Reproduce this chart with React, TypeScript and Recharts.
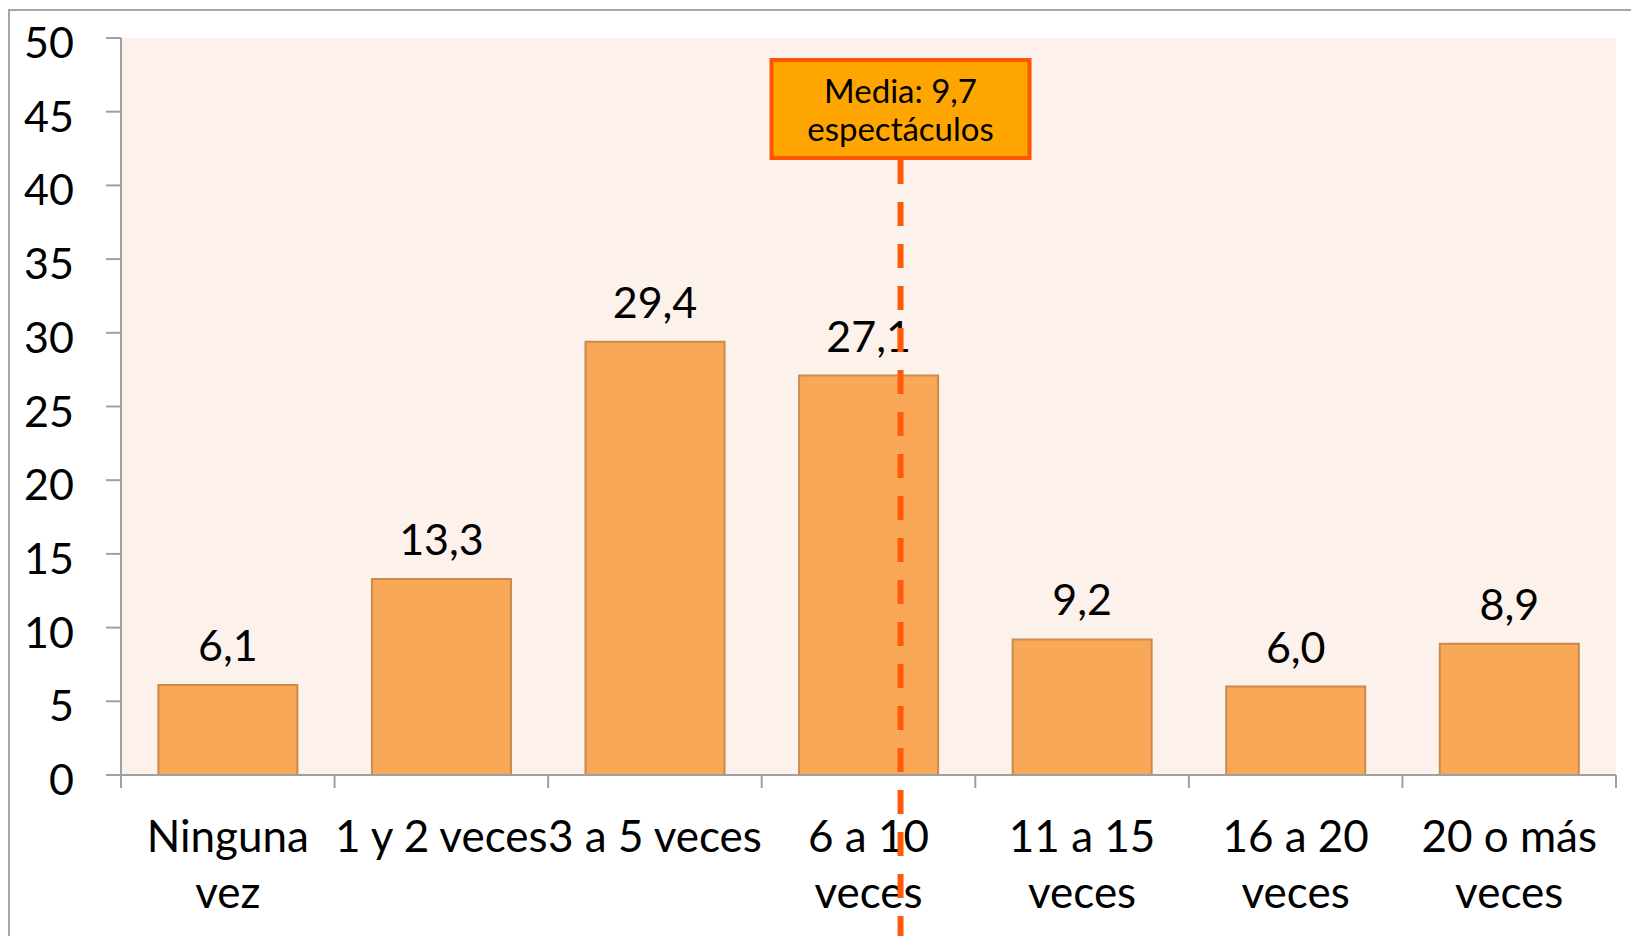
import React from "react";
import {
  BarChart,
  Bar,
  XAxis,
  YAxis,
  CartesianGrid,
  LabelList,
  ReferenceLine,
} from "recharts";

const categories = [
  "Ninguna vez",
  "1 y 2 veces",
  "3 a 5 veces",
  "6 a 10 veces",
  "11 a 15 veces",
  "16 a 20 veces",
  "20 o más veces",
];
const tickLines = [
  ["Ninguna", "vez"],
  ["1 y 2 veces"],
  ["3 a 5 veces"],
  ["6 a 10", "veces"],
  ["11 a 15", "veces"],
  ["16 a 20", "veces"],
  ["20 o más", "veces"],
];
const values = [6.1, 13.3, 29.4, 27.1, 9.2, 6.0, 8.9];
const yTicks = [0, 5, 10, 15, 20, 25, 30, 35, 40, 45, 50];
const meanPos = 3.65;
const meanLabel = ["Media: 9,7", "espectáculos"];

const data = categories.map((c, i) => ({ name: c, value: values[i], pos: i + 0.5 }));

const FONT = "Lato, 'Open Sans', sans-serif";
const AXIS = "#A0A0A0";

const fmt = (v: any) => Number(v).toFixed(1).replace(".", ",");

const XTick = (props: any) => {
  const { x, y, payload } = props;
  const idx = categories.indexOf(payload.value);
  const lines = tickLines[idx] || [payload.value];
  const half = payload.offset || 0;
  return (
    <g>
      <line x1={x - half} x2={x - half} y1={y} y2={y + 13} stroke={AXIS} strokeWidth={2} />
      {idx === categories.length - 1 && (
        <line x1={x + half} x2={x + half} y1={y} y2={y + 13} stroke={AXIS} strokeWidth={2} />
      )}
      {lines.map((l, i) => (
        <text
          key={i}
          x={x}
          y={y + 77 + i * 56}
          textAnchor="middle"
          fontSize={44}
          fill="#000"
          fontFamily={FONT}
        >
          {l}
        </text>
      ))}
    </g>
  );
};

const YTick = (props: any) => {
  const { x, y, payload } = props;
  return (
    <text x={x} y={y + 20} textAnchor="end" fontSize={43} fill="#000" fontFamily={FONT}>
      {payload.value}
    </text>
  );
};

const MeanShape = (props: any) => {
  const { x1, y1, y2 } = props;
  const top = Math.min(y1, y2);
  const bottom = Math.max(y1, y2);
  const bw = 258;
  const bh = 98;
  const bx = x1 - bw / 2;
  const by = top + 22;
  return (
    <g>
      <line
        x1={x1}
        x2={x1}
        y1={by + bh + 2}
        y2={bottom + 170}
        stroke="#FF5A0A"
        strokeWidth={6}
        strokeDasharray="24 18"
      />
      <rect x={bx} y={by} width={bw} height={bh} fill="#FFA500" stroke="#FF5500" strokeWidth={4} />
      <text x={x1} y={by + 43} textAnchor="middle" fontSize={33} fill="#000" fontFamily={FONT}>
        {meanLabel[0]}
      </text>
      <text x={x1} y={by + 81} textAnchor="middle" fontSize={33} fill="#000" fontFamily={FONT}>
        {meanLabel[1]}
      </text>
    </g>
  );
};

export default function App() {
  return (
    <div
      style={{
        position: "absolute",
        left: 0,
        top: 0,
        width: 1631,
        height: 936,
        overflow: "hidden",
        background: "#fff",
        fontFamily: FONT,
      }}
    >
      <div
        style={{
          position: "absolute",
          left: 8,
          top: 9,
          width: 1700,
          height: 1000,
          border: "2px solid #A6A6A6",
        }}
      />
      <div style={{ position: "absolute", left: 0, top: 0 }}>
        <BarChart
          width={1631}
          height={936}
          data={data}
          margin={{ top: 38, right: 15, left: 0, bottom: 10 }}
          barCategoryGap="17.5%"
        >
          <CartesianGrid horizontal={false} vertical={false} fill="#FDF1EC" xAxisId="cat" />
          <XAxis
            xAxisId="num"
            dataKey="pos"
            type="number"
            orientation="top"
            domain={[0, 7]}
            allowDataOverflow
            hide
          />
          <XAxis
            xAxisId="cat"
            dataKey="name"
            type="category"
            interval={0}
            axisLine={{ stroke: AXIS, strokeWidth: 2 }}
            tickLine={false}
            tickSize={0}
            tickMargin={0}
            height={151}
            tick={<XTick />}
          />
          <YAxis
            domain={[0, 50]}
            ticks={yTicks}
            width={121}
            tickSize={15}
            tickMargin={32}
            interval={0}
            axisLine={{ stroke: AXIS, strokeWidth: 2 }}
            tickLine={{ stroke: AXIS, strokeWidth: 2 }}
            tick={<YTick />}
          />
          <Bar
            xAxisId="cat"
            dataKey="value"
            fill="#F9A857"
            stroke="#C98A4B"
            strokeWidth={2}
            isAnimationActive={false}
          >
            <LabelList
              dataKey="value"
              position="top"
              offset={24}
              formatter={fmt}
              fontSize={43}
              fill="#000"
              fontFamily={FONT}
            />
          </Bar>
          <ReferenceLine
            xAxisId="num"
            x={meanPos}
            ifOverflow="visible"
            shape={(p: any) => <MeanShape {...p} />}
            zIndex={2500}
          />
        </BarChart>
      </div>
    </div>
  );
}
